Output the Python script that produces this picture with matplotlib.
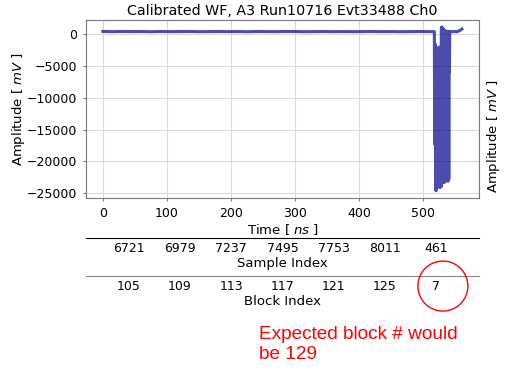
import matplotlib
matplotlib.use('Agg')
import matplotlib.pyplot as plt
from matplotlib.patches import Ellipse

# waveform: flat baseline, then the saturated burst near the end
base_time = [0, 15, 30, 45, 60, 75, 90, 105, 120, 135, 150, 165, 180, 195, 210,
             225, 240, 255, 270, 285, 300, 315, 330, 345, 360, 375, 390, 405,
             420, 435, 450, 465, 480, 495, 510, 516.5]
base_amp = [470, 430, 460, 440, 450, 420, 455, 430, 445, 460, 425, 440, 450, 435,
            445, 420, 450, 440, 430, 455, 445, 420, 440, 450, 430, 445, 425, 440,
            455, 430, 445, 420, 440, 450, 430, 440]

burst_time = [517.0, 517.5, 518.0, 518.5, 519.0, 519.5, 520.0, 520.5, 521.0, 521.5,
              522.0, 522.5, 523.0, 523.5, 524.0, 524.5, 525.0, 525.5, 526.0, 526.5,
              527.0, 527.5, 528.0, 528.5, 529.0, 529.5, 530.0, 530.5, 531.0, 531.5,
              532.0, 532.5, 533.0, 533.5, 534.0, 534.5, 535.0, 535.5, 536.0, 536.5,
              537.0, 537.5, 538.0, 538.5, 539.0, 539.5, 540.0, 540.5, 541.0, 541.5]
burst_amp = [440, -17200, -1500, -17500, -1800, -24600, -2300, -24400, -2200, -18500,
             -2400, -18300, -2200, -18600, -2100, -18400, -2000, -24100, -2100, -23900,
             -4600, -24000, 1100, -22500, 1150, -22400, 900, -23300, 800, -23200,
             700, -23300, 600, -23100, -3500, -23000, -3000, -23100, 500, -23000,
             450, -22900, 500, -23100, 450, -22800, 400, -6000, 450, 430]

tail_time = [543, 546, 549, 552, 555, 558, 560]
tail_amp = [440, 430, 450, 420, 520, 700, 850]

time_ns = base_time + burst_time + tail_time
amp_mv = base_amp + burst_amp + tail_amp

tick_pos = [40, 120, 200, 280, 360, 440, 520]
sample_labels = ['6721', '6979', '7237', '7495', '7753', '8011', '461']
block_labels = ['105', '109', '113', '117', '121', '125', '7']

fig = plt.figure(figsize=(5.05, 3.72), dpi=100)
ax = fig.add_axes([0.170, 0.467, 0.779, 0.479])

ax.plot(time_ns, amp_mv, color='darkblue', alpha=0.7, linewidth=2.2)
ax.set_xlim(-26.5, 587)
ax.set_ylim(-25800, 2250)
ax.set_yticks([0, -5000, -10000, -15000, -20000, -25000])
ax.set_xticks([0, 100, 200, 300, 400, 500])
ax.grid(True, color='#d9d9d9', linewidth=0.8)
ax.set_axisbelow(True)
for s in ax.spines.values():
    s.set_color('#777777')
ax.tick_params(labelsize=9, length=2.5, color='#777777')
ax.set_title('Calibrated WF, A3 Run10716 Evt33488 Ch0', fontsize=10.3, pad=4)
ax.set_xlabel('Time [ $ns$ ]', fontsize=9.5, labelpad=2)
ax.set_ylabel('Amplitude [ $mV$ ]', fontsize=9.5, labelpad=0)

# extra index axes below the main one
def index_axis(offset, labels, name, spine_color):
    a = ax.twiny()
    a.set_xlim(ax.get_xlim())
    for k in ['top', 'left', 'right']:
        a.spines[k].set_visible(False)
    a.spines['bottom'].set_visible(True)
    a.spines['bottom'].set_position(('outward', offset))
    a.spines['bottom'].set_color(spine_color)
    a.xaxis.set_ticks_position('bottom')
    a.xaxis.set_label_position('bottom')
    a.set_xticks(tick_pos)
    a.set_xticklabels(labels)
    a.tick_params(length=0, labelsize=9, pad=3)
    a.set_xlabel(name, fontsize=9.5, labelpad=1)
    return a

index_axis(28.6, sample_labels, 'Sample Index', 'black')
index_axis(56.2, block_labels, 'Block Index', '#888888')

fig.text(0.978, 0.635, 'Amplitude [ $mV$ ]', rotation=90, fontsize=9.5,
         ha='center', va='center')

fig.patches.append(Ellipse((0.877, 0.231), 50 / 505, 50 / 372, fill=False,
                           edgecolor='red', linewidth=1, transform=fig.transFigure))
fig.text(0.513, 1 - 326 / 372, 'Expected block # would\nbe 129', color='red',
         fontsize=13.7, family='Liberation Sans', va='top', ha='left',
         linespacing=1.25)

fig.savefig('out.png', dpi=100)
